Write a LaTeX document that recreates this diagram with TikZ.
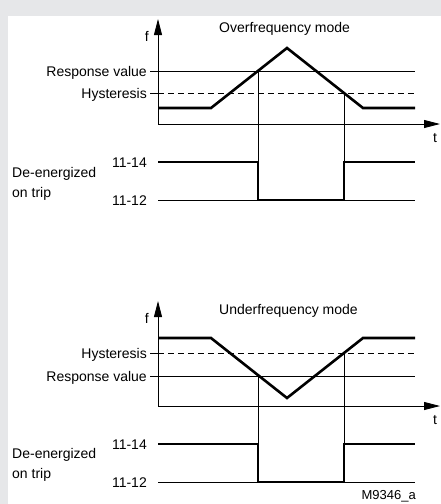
\documentclass[tikz,border=0pt]{standalone}
\usepackage{fontspec}
\setmainfont{Liberation Sans}
\usetikzlibrary{arrows.meta}
\definecolor{panelgrey}{RGB}{230,231,233}

\begin{document}
\begin{tikzpicture}[x=1pt,y=-1pt,
        every node/.style={font=\fontsize{14}{16}\selectfont, inner sep=0pt},
        thinline/.style={line width=0.9pt},
        signal/.style={line width=2.6pt, line join=miter},
        hyst/.style={line width=0.9pt, dash pattern=on 6pt off 4pt},
        axis/.style={line width=0.9pt, -{Triangle[length=16pt,width=8pt]}}]
                % background and panel
                \useasboundingbox (0,0) rectangle (441,504);
                \fill[panelgrey] (0,0) rectangle (441,504);
                \fill[white] (8,16) rectangle (441,504);
                % overfrequency mode
                \begin{scope}
                    \coordinate (O1) at (158,124);
                    \coordinate (F1) at (158,19);
                    \coordinate (T1) at (440,124);
                    \coordinate (R1a) at (150,71);
                    \coordinate (R1b) at (415,71);
                    \coordinate (H1a) at (150,93);
                    \coordinate (H1c) at (158,93);
                    \coordinate (H1b) at (415,93);
                    \coordinate (S1a) at (158,108);
                    \coordinate (S1b) at (211,108);
                    \coordinate (S1c) at (287,48);
                    \coordinate (S1d) at (363,108);
                    \coordinate (S1e) at (415,108);
                    \coordinate (X1a) at (258,71);
                    \coordinate (X1b) at (344,93);
                    \coordinate (K1a) at (158,162);
                    \coordinate (K1b) at (258,162);
                    \coordinate (K1c) at (258,200);
                    \coordinate (K1d) at (344,200);
                    \coordinate (K1e) at (344,162);
                    \coordinate (K1f) at (415,162);
                    \coordinate (L1a) at (158,200);
                    \coordinate (L1b) at (415,200);
                \end{scope}
                \node (f1) [anchor=base east] at (149,41) {f};
                \node (t1) [anchor=base] at (435,142) {t};
                \node (title1) [anchor=base west] at (219,32) {Overfrequency mode};
                \node (resp1) [anchor=base east] at (147,76) {Response value};
                \node (hys1) [anchor=base east] at (147,98) {Hysteresis};
                \node (no1) [anchor=base east] at (147,167) {11-14};
                \node (nc1) [anchor=base east] at (147,205) {11-12};
                \node (de1) [anchor=base west] at (12,177) {De-energized};
                \node (trip1) [anchor=base west] at (12,197) {on trip};
                \draw[axis] (O1) -- (F1);
                \draw[axis] (O1) -- (T1);
                \draw[thinline] (R1a) -- (R1b);
                \draw[thinline] (H1a) -- (H1c);
                \draw[hyst] (H1c) -- (H1b);
                \draw[thinline] (X1a) -- (K1c);
                \draw[thinline] (X1b) -- (K1d);
                \draw[thinline] (L1a) -- (L1b);
                \draw[signal] (S1a) -- (S1b) -- (S1c) -- (S1d) -- (S1e);
                \draw[signal] (K1a) -- (K1b) -- (K1c) -- (K1d) -- (K1e) -- (K1f);
                % underfrequency mode
                \begin{scope}
                    \coordinate (O2) at (158,406);
                    \coordinate (F2) at (158,301);
                    \coordinate (T2) at (440,406);
                    \coordinate (H2a) at (150,353);
                    \coordinate (H2c) at (158,353);
                    \coordinate (H2b) at (415,353);
                    \coordinate (R2a) at (150,376);
                    \coordinate (R2b) at (415,376);
                    \coordinate (S2a) at (158,338);
                    \coordinate (S2b) at (211,338);
                    \coordinate (S2c) at (287,398);
                    \coordinate (S2d) at (363,338);
                    \coordinate (S2e) at (415,338);
                    \coordinate (X2a) at (258,376);
                    \coordinate (X2b) at (344,353);
                    \coordinate (K2a) at (158,444);
                    \coordinate (K2b) at (258,444);
                    \coordinate (K2c) at (258,482);
                    \coordinate (K2d) at (344,482);
                    \coordinate (K2e) at (344,444);
                    \coordinate (K2f) at (415,444);
                    \coordinate (L2a) at (158,482);
                    \coordinate (L2b) at (415,482);
                \end{scope}
                \node (f2) [anchor=base east] at (149,323) {f};
                \node (t2) [anchor=base] at (435,424) {t};
                \node (title2) [anchor=base west] at (219,314) {Underfrequency mode};
                \node (hys2) [anchor=base east] at (147,358) {Hysteresis};
                \node (resp2) [anchor=base east] at (147,381) {Response value};
                \node (no2) [anchor=base east] at (147,449) {11-14};
                \node (nc2) [anchor=base east] at (147,487) {11-12};
                \node (de2) [anchor=base west] at (12,458) {De-energized};
                \node (trip2) [anchor=base west] at (12,478) {on trip};
                \node (code) [anchor=base east, font=\fontsize{13}{15}\selectfont] at (416,499) {M9346\_a};
                \draw[axis] (O2) -- (F2);
                \draw[axis] (O2) -- (T2);
                \draw[thinline] (R2a) -- (R2b);
                \draw[thinline] (H2a) -- (H2c);
                \draw[hyst] (H2c) -- (H2b);
                \draw[thinline] (X2a) -- (K2c);
                \draw[thinline] (X2b) -- (K2d);
                \draw[thinline] (L2a) -- (L2b);
                \draw[signal] (S2a) -- (S2b) -- (S2c) -- (S2d) -- (S2e);
                \draw[signal] (K2a) -- (K2b) -- (K2c) -- (K2d) -- (K2e) -- (K2f);
\end{tikzpicture}
\end{document}
